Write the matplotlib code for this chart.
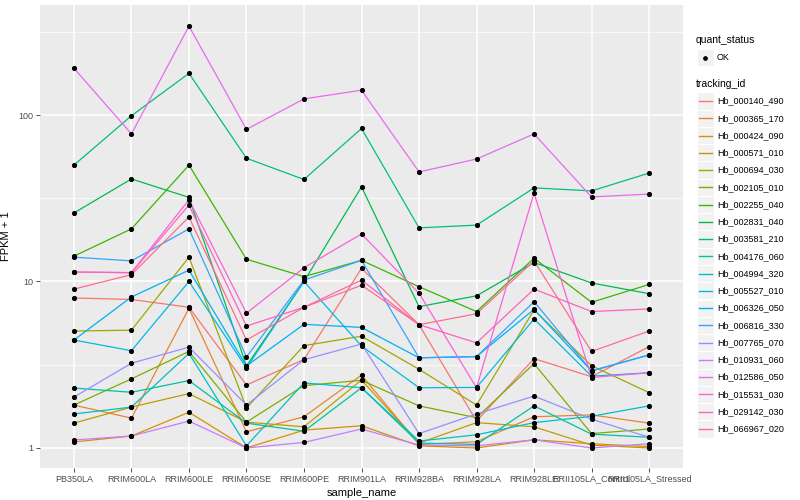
import matplotlib
matplotlib.use('Agg')
import matplotlib.pyplot as plt
from matplotlib.lines import Line2D
from matplotlib.patches import Rectangle

plt.rcParams['font.family'] = ['Liberation Sans', 'DejaVu Sans']

samples = ['PB350LA', 'RRIM600LA', 'RRIM600LE', 'RRIM600SE', 'RRIM600PE', 'RRIM901LA',
           'RRIM928BA', 'RRIM928LA', 'RRIM928LE', 'RRII105LA_Control', 'RRII105LA_Stressed']

tracking_ids = ['Hb_000140_490', 'Hb_000365_170', 'Hb_000424_090', 'Hb_000571_010',
                'Hb_000694_030', 'Hb_002105_010', 'Hb_002255_040', 'Hb_002831_040',
                'Hb_003581_210', 'Hb_004176_060', 'Hb_004994_320', 'Hb_005527_010',
                'Hb_006326_050', 'Hb_006816_330', 'Hb_007765_070', 'Hb_010931_060',
                'Hb_012586_050', 'Hb_015531_030', 'Hb_029142_030', 'Hb_066967_020']

# ggplot hue palette, 20 levels
colors = ['#F8766D', '#EA8331', '#D89000', '#C09B00', '#A3A500', '#7CAE00', '#39B600',
          '#00BB4E', '#00BF7D', '#00C1A3', '#00BFC4', '#00BAE0', '#00B0F6', '#35A2FF',
          '#9590FF', '#C77CFF', '#E76BF3', '#FA62DB', '#FF62BC', '#FF6C90']

# FPKM + 1, one list per gene, in sample order
hb_000140_490 = [7.96, 7.8, 7.0, 2.39, 3.4, 12.0, 5.5, 1.45, 3.44, 2.68, 4.06]
hb_000365_170 = [1.81, 1.51, 6.9, 1.25, 1.54, 2.74, 1.05, 1.09, 1.54, 1.58, 1.41]
hb_000424_090 = [1.087, 1.18, 1.64, 1.0, 1.28, 1.36, 1.03, 1.0, 1.12, 1.06, 1.02]
hb_000571_010 = [1.41, 1.76, 2.12, 1.43, 1.34, 2.56, 1.07, 1.42, 1.34, 1.04, 1.0]
hb_000694_030 = [5.04, 5.1, 14.0, 1.74, 4.12, 4.69, 2.97, 1.81, 6.75, 3.12, 2.15]
hb_002105_010 = [1.81, 2.6, 3.8, 1.43, 2.37, 2.55, 1.79, 1.52, 3.21, 1.22, 1.30]
hb_002255_040 = [14.2, 20.7, 50.0, 13.6, 10.7, 13.4, 9.3, 6.6, 13.8, 7.5, 9.6]
hb_002831_040 = [25.8, 41.3, 32.0, 3.11, 10.0, 37.0, 7.06, 8.2, 13.0, 9.8, 8.45]
hb_003581_210 = [50, 99, 178, 55, 41, 83, 21, 21.8, 36.5, 35, 44.8]
hb_004176_060 = [2.29, 2.16, 2.54, 1.41, 1.26, 2.3, 1.07, 1.05, 1.79, 1.21, 1.16]
hb_004994_320 = [1.6, 1.76, 3.7, 1.03, 2.46, 2.3, 1.1, 1.2, 1.42, 1.55, 1.79]
hb_005527_010 = [4.45, 3.84, 10.0, 3.02, 10.0, 4.1, 2.3, 2.31, 5.95, 2.7, 2.83]
hb_006326_050 = [4.45, 8.07, 11.7, 3.11, 5.53, 5.3, 3.48, 3.54, 6.8, 2.9, 3.62]
hb_006816_330 = [14.0, 13.3, 20.7, 3.52, 10.2, 13.4, 3.48, 3.54, 7.56, 2.91, 3.62]
hb_007765_070 = [2.02, 3.23, 4.03, 1.81, 3.39, 4.21, 1.22, 1.6, 2.05, 1.49, 1.16]
hb_010931_060 = [1.117, 1.18, 1.45, 1.0, 1.08, 1.30, 1.04, 1.03, 1.12, 1.0, 1.06]
hb_012586_050 = [191, 77, 342, 82, 125, 141, 45.5, 54.4, 77, 32.2, 33.5]
hb_015531_030 = [11.4, 11.3, 31, 6.45, 12.1, 19.3, 8.5, 2.3, 34, 2.65, 2.83]
hb_029142_030 = [11.4, 11.3, 28.8, 5.4, 7.0, 10.2, 5.5, 4.28, 9.0, 6.6, 6.84]
hb_066967_020 = [9.0, 11.0, 24.4, 4.45, 7.0, 9.5, 5.5, 6.4, 13.3, 3.8, 5.04]

series = [hb_000140_490, hb_000365_170, hb_000424_090, hb_000571_010, hb_000694_030,
          hb_002105_010, hb_002255_040, hb_002831_040, hb_003581_210, hb_004176_060,
          hb_004994_320, hb_005527_010, hb_006326_050, hb_006816_330, hb_007765_070,
          hb_010931_060, hb_012586_050, hb_015531_030, hb_029142_030, hb_066967_020]

W, H = 800, 500
fig = plt.figure(figsize=(8, 5), dpi=100)
ax = fig.add_axes([40 / W, 1 - 468 / H, (683 - 40) / W, (468 - 5) / H])
ax.set_facecolor('#EBEBEB')
for s in ax.spines.values():
    s.set_visible(False)

xpos = list(range(len(samples)))
for vals, col in zip(series, colors):
    ax.plot(xpos, vals, color=col, linewidth=0.9, zorder=3)
for vals in series:
    ax.plot(xpos, vals, 'o', color='black', markersize=2.7, zorder=4)

ax.set_yscale('log')
ax.set_ylim(0.758, 458)
ax.set_xlim(-0.59, len(samples) - 1 + 0.59)

ax.set_yticks([1, 10, 100])
ax.set_yticklabels(['1', '10', '100'])
ax.minorticks_off()
ax.set_xticks(xpos)
ax.set_xticklabels(samples)

# grid lines
for v in [1, 10, 100]:
    ax.axhline(v, color='white', linewidth=1.1, zorder=1)
for v in [10 ** 0.5, 10 ** 1.5, 10 ** 2.5]:
    ax.axhline(v, color='white', linewidth=0.5, zorder=1)
for x in xpos:
    ax.axvline(x, color='white', linewidth=1.1, zorder=1)

ax.tick_params(axis='both', colors='#333333', length=2.8, width=0.6,
               labelsize=6.5, labelcolor='#4D4D4D', pad=2)
ax.set_xlabel('sample_name', fontsize=8, labelpad=3)
ax.set_ylabel('FPKM + 1', fontsize=8, labelpad=5)


# legends drawn by hand, ggplot style
def fx(x):
    return x / W


def fy(y):
    return 1 - y / H


fig.text(fx(696), fy(40), 'quant_status', fontsize=7.5, va='center', ha='left')
fig.patches.append(Rectangle((fx(697), fy(66)), fx(16.5), 17 / H, transform=fig.transFigure,
                             facecolor='#F2F2F2', edgecolor='white', linewidth=0.8))
fig.lines.append(Line2D([fx(705)], [fy(57.5)], marker='o', color='black', markersize=2.4,
                        transform=fig.transFigure))
fig.text(fx(717), fy(57.5), 'OK', fontsize=6.5, va='center', ha='left')

fig.text(fx(696), fy(84), 'tracking_id', fontsize=7.5, va='center', ha='left')
for i, (tid, col) in enumerate(zip(tracking_ids, colors)):
    yc = 101 + i * 17.26
    fig.patches.append(Rectangle((fx(697), fy(yc + 8.6)), fx(16.5), 17.2 / H,
                                 transform=fig.transFigure, facecolor='#F2F2F2',
                                 edgecolor='white', linewidth=0.8))
    fig.lines.append(Line2D([fx(698.5), fx(712)], [fy(yc), fy(yc)], color=col, linewidth=1.0,
                            transform=fig.transFigure))
    fig.text(fx(717), fy(yc), tid, fontsize=6.5, va='center', ha='left')

fig.savefig('out.png', dpi=100)
